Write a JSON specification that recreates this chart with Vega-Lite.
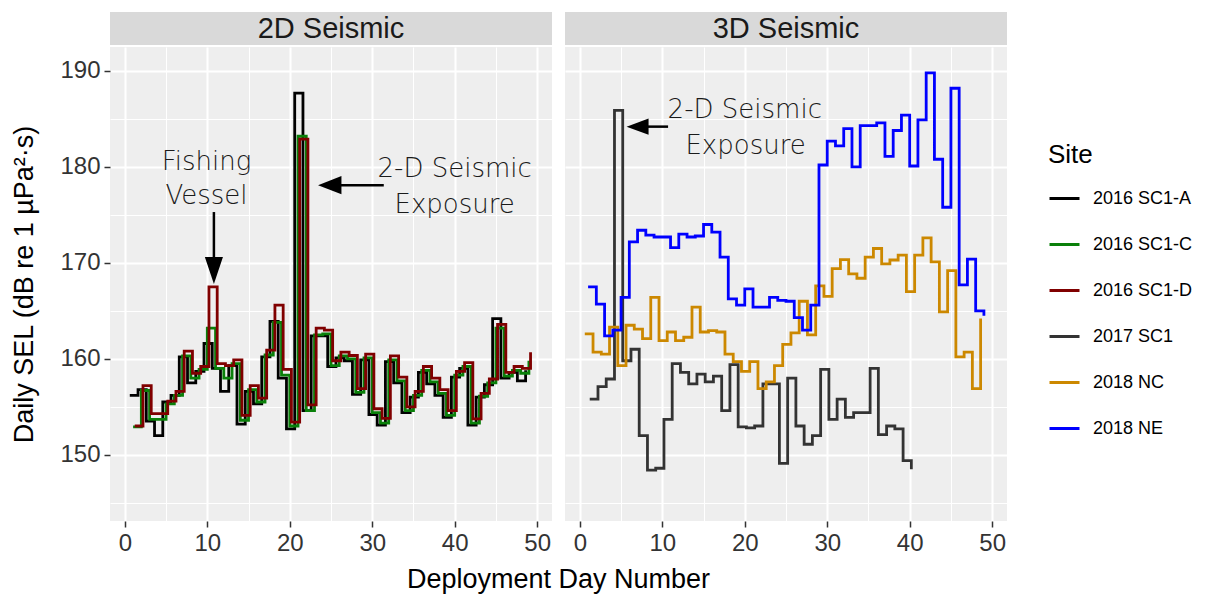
{
  "$schema": "https://vega.github.io/schema/vega-lite/v6.json",
  "background": "#ffffff",
  "padding": {"left": 10, "top": 12, "right": 10, "bottom": 4},
  "config": {
    "font": "Liberation Sans",
    "view": {"stroke": null},
    "axis": {
      "domain": false,
      "labelFont": "Liberation Sans",
      "titleFont": "Liberation Sans",
      "labelFontSize": 24,
      "labelColor": "#333333",
      "titleFontSize": 27,
      "titleFontWeight": "normal",
      "titleColor": "#000000",
      "tickColor": "#333333",
      "tickSize": 6,
      "tickWidth": 1.5,
      "labelPadding": 4,
      "gridColor": "#ffffff",
      "labelFlush": false
    },
    "legend": {
      "titleFont": "Liberation Sans",
      "labelFont": "Liberation Sans",
      "titleFontSize": 26,
      "titleFontWeight": "normal",
      "titleColor": "#000000",
      "labelFontSize": 18,
      "labelColor": "#000000",
      "symbolType": "stroke",
      "symbolStrokeWidth": 3,
      "symbolSize": 900,
      "rowPadding": 20,
      "labelOffset": 12,
      "titlePadding": 14,
      "padding": 0
    }
  },
  "datasets": {
    "lines2d": [
      {"site":"2016 SC1-A","day":0.6,"sel":156.2},{"site":"2016 SC1-A","day":1.6,"sel":156.8},{"site":"2016 SC1-A","day":2.6,"sel":153.5},{"site":"2016 SC1-A","day":3.6,"sel":152.0},{"site":"2016 SC1-A","day":4.6,"sel":155.5},{"site":"2016 SC1-A","day":5.6,"sel":156.2},{"site":"2016 SC1-A","day":6.6,"sel":160.2},{"site":"2016 SC1-A","day":7.6,"sel":157.5},{"site":"2016 SC1-A","day":8.6,"sel":158.7},{"site":"2016 SC1-A","day":9.6,"sel":161.6},
      {"site":"2016 SC1-A","day":10.6,"sel":159.0},{"site":"2016 SC1-A","day":11.6,"sel":156.6},{"site":"2016 SC1-A","day":12.6,"sel":159.3},{"site":"2016 SC1-A","day":13.6,"sel":153.2},{"site":"2016 SC1-A","day":14.6,"sel":156.6},{"site":"2016 SC1-A","day":15.6,"sel":155.3},{"site":"2016 SC1-A","day":16.6,"sel":160.2},{"site":"2016 SC1-A","day":17.6,"sel":163.9},{"site":"2016 SC1-A","day":18.6,"sel":158.0},{"site":"2016 SC1-A","day":19.6,"sel":152.7},
      {"site":"2016 SC1-A","day":20.6,"sel":187.7},{"site":"2016 SC1-A","day":21.6,"sel":154.6},{"site":"2016 SC1-A","day":22.6,"sel":162.4},{"site":"2016 SC1-A","day":23.6,"sel":162.4},{"site":"2016 SC1-A","day":24.6,"sel":159.2},{"site":"2016 SC1-A","day":25.6,"sel":160.1},{"site":"2016 SC1-A","day":26.6,"sel":159.8},{"site":"2016 SC1-A","day":27.6,"sel":156.3},{"site":"2016 SC1-A","day":28.6,"sel":159.9},{"site":"2016 SC1-A","day":29.6,"sel":154.2},
      {"site":"2016 SC1-A","day":30.6,"sel":153.1},{"site":"2016 SC1-A","day":31.6,"sel":159.7},{"site":"2016 SC1-A","day":32.6,"sel":157.5},{"site":"2016 SC1-A","day":33.6,"sel":154.4},{"site":"2016 SC1-A","day":34.6,"sel":156.0},{"site":"2016 SC1-A","day":35.6,"sel":158.6},{"site":"2016 SC1-A","day":36.6,"sel":157.4},{"site":"2016 SC1-A","day":37.6,"sel":156.2},{"site":"2016 SC1-A","day":38.6,"sel":153.9},{"site":"2016 SC1-A","day":39.6,"sel":158.1},
      {"site":"2016 SC1-A","day":40.6,"sel":159.0},{"site":"2016 SC1-A","day":41.6,"sel":153.1},{"site":"2016 SC1-A","day":42.6,"sel":156.0},{"site":"2016 SC1-A","day":43.6,"sel":157.3},{"site":"2016 SC1-A","day":44.6,"sel":164.2},{"site":"2016 SC1-A","day":45.6,"sel":158.0},{"site":"2016 SC1-A","day":46.6,"sel":158.6},{"site":"2016 SC1-A","day":47.6,"sel":157.7},{"site":"2016 SC1-A","day":48.6,"sel":158.8},
      {"site":"2016 SC1-C","day":1,"sel":152.9},{"site":"2016 SC1-C","day":2,"sel":156.7},{"site":"2016 SC1-C","day":3,"sel":153.7},{"site":"2016 SC1-C","day":4,"sel":153.7},{"site":"2016 SC1-C","day":5,"sel":155.3},{"site":"2016 SC1-C","day":6,"sel":156.2},{"site":"2016 SC1-C","day":7,"sel":160.3},{"site":"2016 SC1-C","day":8,"sel":158.0},{"site":"2016 SC1-C","day":9,"sel":158.9},{"site":"2016 SC1-C","day":10,"sel":163.2},
      {"site":"2016 SC1-C","day":11,"sel":159.0},{"site":"2016 SC1-C","day":12,"sel":158.0},{"site":"2016 SC1-C","day":13,"sel":159.5},{"site":"2016 SC1-C","day":14,"sel":153.6},{"site":"2016 SC1-C","day":15,"sel":156.8},{"site":"2016 SC1-C","day":16,"sel":155.5},{"site":"2016 SC1-C","day":17,"sel":160.4},{"site":"2016 SC1-C","day":18,"sel":163.8},{"site":"2016 SC1-C","day":19,"sel":158.3},{"site":"2016 SC1-C","day":20,"sel":153.0},
      {"site":"2016 SC1-C","day":21,"sel":183.2},{"site":"2016 SC1-C","day":22,"sel":154.6},{"site":"2016 SC1-C","day":23,"sel":162.5},{"site":"2016 SC1-C","day":24,"sel":162.6},{"site":"2016 SC1-C","day":25,"sel":159.3},{"site":"2016 SC1-C","day":26,"sel":160.3},{"site":"2016 SC1-C","day":27,"sel":160.0},{"site":"2016 SC1-C","day":28,"sel":156.5},{"site":"2016 SC1-C","day":29,"sel":160.1},{"site":"2016 SC1-C","day":30,"sel":154.4},
      {"site":"2016 SC1-C","day":31,"sel":153.3},{"site":"2016 SC1-C","day":32,"sel":159.9},{"site":"2016 SC1-C","day":33,"sel":157.7},{"site":"2016 SC1-C","day":34,"sel":154.6},{"site":"2016 SC1-C","day":35,"sel":156.2},{"site":"2016 SC1-C","day":36,"sel":158.8},{"site":"2016 SC1-C","day":37,"sel":157.6},{"site":"2016 SC1-C","day":38,"sel":156.4},{"site":"2016 SC1-C","day":39,"sel":154.1},{"site":"2016 SC1-C","day":40,"sel":158.3},
      {"site":"2016 SC1-C","day":41,"sel":159.2},{"site":"2016 SC1-C","day":42,"sel":153.3},{"site":"2016 SC1-C","day":43,"sel":156.1},{"site":"2016 SC1-C","day":44,"sel":157.5},{"site":"2016 SC1-C","day":45,"sel":163.2},{"site":"2016 SC1-C","day":46,"sel":158.2},{"site":"2016 SC1-C","day":47,"sel":158.8},{"site":"2016 SC1-C","day":48,"sel":158.5},{"site":"2016 SC1-C","day":49,"sel":159.8},
      {"site":"2016 SC1-D","day":1.2,"sel":153.0},{"site":"2016 SC1-D","day":2.2,"sel":157.2},{"site":"2016 SC1-D","day":3.2,"sel":154.3},{"site":"2016 SC1-D","day":4.2,"sel":154.3},{"site":"2016 SC1-D","day":5.2,"sel":155.6},{"site":"2016 SC1-D","day":6.2,"sel":156.6},{"site":"2016 SC1-D","day":7.2,"sel":160.8},{"site":"2016 SC1-D","day":8.2,"sel":158.5},{"site":"2016 SC1-D","day":9.2,"sel":159.2},{"site":"2016 SC1-D","day":10.2,"sel":167.5},
      {"site":"2016 SC1-D","day":11.2,"sel":159.5},{"site":"2016 SC1-D","day":12.2,"sel":159.3},{"site":"2016 SC1-D","day":13.2,"sel":159.9},{"site":"2016 SC1-D","day":14.2,"sel":154.1},{"site":"2016 SC1-D","day":15.2,"sel":157.2},{"site":"2016 SC1-D","day":16.2,"sel":155.9},{"site":"2016 SC1-D","day":17.2,"sel":160.9},{"site":"2016 SC1-D","day":18.2,"sel":165.6},{"site":"2016 SC1-D","day":19.2,"sel":158.9},{"site":"2016 SC1-D","day":20.2,"sel":153.4},
      {"site":"2016 SC1-D","day":21.2,"sel":182.9},{"site":"2016 SC1-D","day":22.2,"sel":155.2},{"site":"2016 SC1-D","day":23.2,"sel":163.2},{"site":"2016 SC1-D","day":24.2,"sel":163.0},{"site":"2016 SC1-D","day":25.2,"sel":159.8},{"site":"2016 SC1-D","day":26.2,"sel":160.7},{"site":"2016 SC1-D","day":27.2,"sel":160.35},{"site":"2016 SC1-D","day":28.2,"sel":156.9},{"site":"2016 SC1-D","day":29.2,"sel":160.5},{"site":"2016 SC1-D","day":30.2,"sel":154.8},
      {"site":"2016 SC1-D","day":31.2,"sel":153.8},{"site":"2016 SC1-D","day":32.2,"sel":160.3},{"site":"2016 SC1-D","day":33.2,"sel":158.1},{"site":"2016 SC1-D","day":34.2,"sel":155.0},{"site":"2016 SC1-D","day":35.2,"sel":156.6},{"site":"2016 SC1-D","day":36.2,"sel":159.2},{"site":"2016 SC1-D","day":37.2,"sel":158.0},{"site":"2016 SC1-D","day":38.2,"sel":156.8},{"site":"2016 SC1-D","day":39.2,"sel":154.6},{"site":"2016 SC1-D","day":40.2,"sel":158.7},
      {"site":"2016 SC1-D","day":41.2,"sel":159.6},{"site":"2016 SC1-D","day":42.2,"sel":153.75},{"site":"2016 SC1-D","day":43.2,"sel":156.4},{"site":"2016 SC1-D","day":44.2,"sel":157.9},{"site":"2016 SC1-D","day":45.2,"sel":163.6},{"site":"2016 SC1-D","day":46.2,"sel":158.6},{"site":"2016 SC1-D","day":47.2,"sel":159.2},{"site":"2016 SC1-D","day":48.2,"sel":159.0},{"site":"2016 SC1-D","day":49.2,"sel":160.7}
    ],
    "lines3d": [
      {"site":"2017 SC1","day":1.2,"sel":155.8},{"site":"2017 SC1","day":2.2,"sel":157.1},{"site":"2017 SC1","day":3.2,"sel":157.9},{"site":"2017 SC1","day":4.2,"sel":185.9},{"site":"2017 SC1","day":5.2,"sel":159.8},{"site":"2017 SC1","day":6.2,"sel":161.0},{"site":"2017 SC1","day":7.2,"sel":152.0},{"site":"2017 SC1","day":8.2,"sel":148.4},{"site":"2017 SC1","day":9.2,"sel":148.6},{"site":"2017 SC1","day":10.2,"sel":153.7},
      {"site":"2017 SC1","day":11.2,"sel":159.5},{"site":"2017 SC1","day":12.2,"sel":158.6},{"site":"2017 SC1","day":13.2,"sel":157.4},{"site":"2017 SC1","day":14.2,"sel":158.4},{"site":"2017 SC1","day":15.2,"sel":157.6},{"site":"2017 SC1","day":16.2,"sel":158.2},{"site":"2017 SC1","day":17.2,"sel":154.6},{"site":"2017 SC1","day":18.2,"sel":159.4},{"site":"2017 SC1","day":19.2,"sel":152.9},{"site":"2017 SC1","day":20.2,"sel":152.8},
      {"site":"2017 SC1","day":21.2,"sel":153.0},{"site":"2017 SC1","day":22.2,"sel":157.4},{"site":"2017 SC1","day":23.2,"sel":157.4},{"site":"2017 SC1","day":24.2,"sel":149.1},{"site":"2017 SC1","day":25.2,"sel":158.0},{"site":"2017 SC1","day":26.2,"sel":153.0},{"site":"2017 SC1","day":27.2,"sel":151.1},{"site":"2017 SC1","day":28.2,"sel":152.0},{"site":"2017 SC1","day":29.2,"sel":158.9},{"site":"2017 SC1","day":30.2,"sel":153.7},
      {"site":"2017 SC1","day":31.2,"sel":155.8},{"site":"2017 SC1","day":32.2,"sel":153.9},{"site":"2017 SC1","day":33.2,"sel":154.4},{"site":"2017 SC1","day":34.2,"sel":154.4},{"site":"2017 SC1","day":35.2,"sel":159.0},{"site":"2017 SC1","day":36.2,"sel":152.1},{"site":"2017 SC1","day":37.2,"sel":153.0},{"site":"2017 SC1","day":38.2,"sel":152.7},{"site":"2017 SC1","day":39.2,"sel":149.4},{"site":"2017 SC1","day":40.2,"sel":148.5},
      {"site":"2018 NC","day":0.6,"sel":162.6},{"site":"2018 NC","day":1.6,"sel":160.7},{"site":"2018 NC","day":2.6,"sel":160.5},{"site":"2018 NC","day":3.6,"sel":163.3},{"site":"2018 NC","day":4.6,"sel":159.3},{"site":"2018 NC","day":5.6,"sel":163.5},{"site":"2018 NC","day":6.6,"sel":163.1},{"site":"2018 NC","day":7.6,"sel":162.1},{"site":"2018 NC","day":8.6,"sel":166.4},{"site":"2018 NC","day":9.6,"sel":161.9},
      {"site":"2018 NC","day":10.6,"sel":162.8},{"site":"2018 NC","day":11.6,"sel":161.9},{"site":"2018 NC","day":12.6,"sel":162.25},{"site":"2018 NC","day":13.6,"sel":165.4},{"site":"2018 NC","day":14.6,"sel":162.8},{"site":"2018 NC","day":15.6,"sel":162.95},{"site":"2018 NC","day":16.6,"sel":162.8},{"site":"2018 NC","day":17.6,"sel":160.5},{"site":"2018 NC","day":18.6,"sel":159.7},{"site":"2018 NC","day":19.6,"sel":158.7},
      {"site":"2018 NC","day":20.6,"sel":159.7},{"site":"2018 NC","day":21.6,"sel":156.9},{"site":"2018 NC","day":22.6,"sel":157.6},{"site":"2018 NC","day":23.6,"sel":159.3},{"site":"2018 NC","day":24.6,"sel":161.5},{"site":"2018 NC","day":25.6,"sel":162.7},{"site":"2018 NC","day":26.6,"sel":166.0},{"site":"2018 NC","day":27.6,"sel":162.5},{"site":"2018 NC","day":28.6,"sel":167.6},{"site":"2018 NC","day":29.6,"sel":166.5},
      {"site":"2018 NC","day":30.6,"sel":169.4},{"site":"2018 NC","day":31.6,"sel":170.35},{"site":"2018 NC","day":32.6,"sel":168.85},{"site":"2018 NC","day":33.6,"sel":168.4},{"site":"2018 NC","day":34.6,"sel":170.6},{"site":"2018 NC","day":35.6,"sel":171.5},{"site":"2018 NC","day":36.6,"sel":169.9},{"site":"2018 NC","day":37.6,"sel":170.3},{"site":"2018 NC","day":38.6,"sel":170.8},{"site":"2018 NC","day":39.6,"sel":167.0},
      {"site":"2018 NC","day":40.6,"sel":170.8},{"site":"2018 NC","day":41.6,"sel":172.6},{"site":"2018 NC","day":42.6,"sel":170.1},{"site":"2018 NC","day":43.6,"sel":164.9},{"site":"2018 NC","day":44.6,"sel":169.2},{"site":"2018 NC","day":45.6,"sel":160.2},{"site":"2018 NC","day":46.6,"sel":160.7},{"site":"2018 NC","day":47.6,"sel":156.9},{"site":"2018 NC","day":48.6,"sel":164.2},
      {"site":"2018 NE","day":1,"sel":167.5},{"site":"2018 NE","day":2,"sel":165.7},{"site":"2018 NE","day":3,"sel":162.4},{"site":"2018 NE","day":4,"sel":163.0},{"site":"2018 NE","day":5,"sel":166.4},{"site":"2018 NE","day":6,"sel":172.2},{"site":"2018 NE","day":7,"sel":173.4},{"site":"2018 NE","day":8,"sel":172.9},{"site":"2018 NE","day":9,"sel":172.7},{"site":"2018 NE","day":10,"sel":172.7},
      {"site":"2018 NE","day":11,"sel":171.6},{"site":"2018 NE","day":12,"sel":173.0},{"site":"2018 NE","day":13,"sel":172.7},{"site":"2018 NE","day":14,"sel":172.8},{"site":"2018 NE","day":15,"sel":174.0},{"site":"2018 NE","day":16,"sel":173.2},{"site":"2018 NE","day":17,"sel":170.6},{"site":"2018 NE","day":18,"sel":166.25},{"site":"2018 NE","day":19,"sel":165.6},{"site":"2018 NE","day":20,"sel":167.3},
      {"site":"2018 NE","day":21,"sel":165.4},{"site":"2018 NE","day":22,"sel":165.4},{"site":"2018 NE","day":23,"sel":166.4},{"site":"2018 NE","day":24,"sel":166.1},{"site":"2018 NE","day":25,"sel":166.0},{"site":"2018 NE","day":26,"sel":164.3},{"site":"2018 NE","day":27,"sel":163.0},{"site":"2018 NE","day":28,"sel":165.6},{"site":"2018 NE","day":29,"sel":180.2},{"site":"2018 NE","day":30,"sel":182.7},
      {"site":"2018 NE","day":31,"sel":182.2},{"site":"2018 NE","day":32,"sel":184.0},{"site":"2018 NE","day":33,"sel":180.0},{"site":"2018 NE","day":34,"sel":184.3},{"site":"2018 NE","day":35,"sel":184.3},{"site":"2018 NE","day":36,"sel":184.6},{"site":"2018 NE","day":37,"sel":181.1},{"site":"2018 NE","day":38,"sel":183.8},{"site":"2018 NE","day":39,"sel":185.4},{"site":"2018 NE","day":40,"sel":180.1},
      {"site":"2018 NE","day":41,"sel":184.9},{"site":"2018 NE","day":42,"sel":189.8},{"site":"2018 NE","day":43,"sel":180.8},{"site":"2018 NE","day":44,"sel":175.8},{"site":"2018 NE","day":45,"sel":188.2},{"site":"2018 NE","day":46,"sel":167.7},{"site":"2018 NE","day":47,"sel":170.4},{"site":"2018 NE","day":48,"sel":165.0},{"site":"2018 NE","day":49,"sel":164.5}
    ],
    "ann2d": [
      {"x":9.9,"y":179.7,"label":"Fishing"},
      {"x":9.9,"y":176.1,"label":"Vessel"},
      {"x":40.0,"y":179.0,"label":"2-D Seismic"},
      {"x":40.0,"y":175.2,"label":"Exposure"}
    ],
    "shaft2d": [
      {"x":10.8,"y":175.3,"x2":10.8,"y2":170.3},
      {"x":26.1,"y":178.1,"x2":31.4,"y2":178.1}
    ],
    "headDown2d": [{"x":10.8,"y":169.2}],
    "headLeft2d": [{"x":24.85,"y":178.1}],
    "ann3d": [
      {"x":20.0,"y":185.1,"label":"2-D Seismic"},
      {"x":20.1,"y":181.35,"label":"Exposure"}
    ],
    "shaft3d": [{"x":8.2,"y":184.2,"x2":10.7,"y2":184.2}],
    "headLeft3d": [{"x":7.0,"y":184.2}]
  },
  "columns": 2,
  "spacing": {"row": 2, "column": 13},
  "bounds": "flush",
  "concat": [
    {
      "width": 442,
      "height": 33,
      "view": {"fill": "#d9d9d9", "stroke": null},
      "data": {"values": [{"label": "2D Seismic"}]},
      "mark": {"type": "text", "fontSize": 29, "color": "#1a1a1a", "font": "Liberation Sans"},
      "encoding": {"text": {"field": "label", "type": "nominal"}}
    },
    {
      "width": 442,
      "height": 33,
      "view": {"fill": "#d9d9d9", "stroke": null},
      "data": {"values": [{"label": "3D Seismic"}]},
      "mark": {"type": "text", "fontSize": 29, "color": "#1a1a1a", "font": "Liberation Sans"},
      "encoding": {"text": {"field": "label", "type": "nominal"}}
    },
    {
      "width": 442,
      "height": 474,
      "view": {"fill": "#eeeeee", "stroke": null},
      "resolve": {"axis": {"x": "independent", "y": "independent"}},
      "layer": [
        {
          "data": {"name": "lines2d"},
          "mark": {"type": "line", "interpolate": "step-after", "strokeWidth": 2.8},
          "encoding": {
            "x": {"field": "day", "type": "quantitative", "scale": {"domain": [-1.8, 51.8], "nice": false, "zero": false},
                  "axis": {"orient": "bottom", "values": [0, 10, 20, 30, 40, 50], "grid": true, "gridWidth": 2, "title": "Deployment Day Number", "titleX": 448, "titlePadding": 11}},
            "y": {"field": "sel", "type": "quantitative", "scale": {"domain": [143.1, 192.5], "nice": false, "zero": false},
                  "axis": {"orient": "left", "values": [150, 160, 170, 180, 190], "grid": true, "gridWidth": 2, "title": "Daily SEL (dB re 1 µPa²·s)", "titlePadding": 21}},
            "color": {"field": "site", "type": "nominal",
                      "scale": {"domain": ["2016 SC1-A", "2016 SC1-C", "2016 SC1-D", "2017 SC1", "2018 NC", "2018 NE"],
                                "range": ["#000000", "#0a800a", "#800000", "#333333", "#cc8800", "#0000ff"]},
                      "legend": {"title": "Site", "orient": "none", "legendX": 938, "legendY": 130}}
          }
        },
        {
          "data": {"name": "lines2d"},
          "mark": {"type": "point", "opacity": 0},
          "encoding": {
            "x": {"field": "day", "type": "quantitative", "scale": {"domain": [-1.8, 51.8], "nice": false, "zero": false},
                  "axis": {"orient": "top", "values": [5, 15, 25, 35, 45], "grid": true, "gridWidth": 1, "labels": false, "ticks": false, "domain": false, "title": null}},
            "y": {"field": "sel", "type": "quantitative", "scale": {"domain": [143.1, 192.5], "nice": false, "zero": false},
                  "axis": {"orient": "right", "values": [145, 155, 165, 175, 185], "grid": true, "gridWidth": 1, "labels": false, "ticks": false, "domain": false, "title": null}}
          }
        },
        {
          "data": {"name": "ann2d"},
          "mark": {"type": "text", "font": "DejaVu Sans", "fontWeight": 200, "fontSize": 26, "color": "#1a1a1a", "baseline": "alphabetic"},
          "encoding": {
            "x": {"field": "x", "type": "quantitative", "scale": {"domain": [-1.8, 51.8], "nice": false, "zero": false}, "axis": null},
            "y": {"field": "y", "type": "quantitative", "scale": {"domain": [143.1, 192.5], "nice": false, "zero": false}, "axis": null},
            "text": {"field": "label", "type": "nominal"}
          }
        },
        {
          "data": {"name": "shaft2d"},
          "mark": {"type": "rule", "strokeWidth": 2.5, "color": "#000000"},
          "encoding": {
            "x": {"field": "x", "type": "quantitative", "scale": {"domain": [-1.8, 51.8], "nice": false, "zero": false}, "axis": null},
            "y": {"field": "y", "type": "quantitative", "scale": {"domain": [143.1, 192.5], "nice": false, "zero": false}, "axis": null},
            "x2": {"field": "x2"},
            "y2": {"field": "y2"}
          }
        },
        {
          "data": {"name": "headDown2d"},
          "mark": {"type": "point", "shape": "M -0.67 -1 L 0.67 -1 L 0 1 Z", "size": 729, "filled": true, "color": "#000000", "opacity": 1},
          "encoding": {
            "x": {"field": "x", "type": "quantitative", "scale": {"domain": [-1.8, 51.8], "nice": false, "zero": false}, "axis": null},
            "y": {"field": "y", "type": "quantitative", "scale": {"domain": [143.1, 192.5], "nice": false, "zero": false}, "axis": null}
          }
        },
        {
          "data": {"name": "headLeft2d"},
          "mark": {"type": "point", "shape": "M -1 0 L 1 -0.78 L 1 0.78 Z", "size": 548, "filled": true, "color": "#000000", "opacity": 1},
          "encoding": {
            "x": {"field": "x", "type": "quantitative", "scale": {"domain": [-1.8, 51.8], "nice": false, "zero": false}, "axis": null},
            "y": {"field": "y", "type": "quantitative", "scale": {"domain": [143.1, 192.5], "nice": false, "zero": false}, "axis": null}
          }
        }
      ]
    },
    {
      "width": 442,
      "height": 474,
      "view": {"fill": "#eeeeee", "stroke": null},
      "resolve": {"axis": {"x": "independent", "y": "independent"}},
      "layer": [
        {
          "data": {"name": "lines3d"},
          "mark": {"type": "line", "interpolate": "step-after", "strokeWidth": 2.8},
          "encoding": {
            "x": {"field": "day", "type": "quantitative", "scale": {"domain": [-1.8, 51.8], "nice": false, "zero": false},
                  "axis": {"orient": "bottom", "values": [0, 10, 20, 30, 40, 50], "grid": true, "gridWidth": 2, "title": null}},
            "y": {"field": "sel", "type": "quantitative", "scale": {"domain": [143.1, 192.5], "nice": false, "zero": false},
                  "axis": {"orient": "left", "values": [150, 160, 170, 180, 190], "grid": true, "gridWidth": 2, "labels": false, "ticks": false, "title": null}},
            "color": {"field": "site", "type": "nominal",
                      "scale": {"domain": ["2016 SC1-A", "2016 SC1-C", "2016 SC1-D", "2017 SC1", "2018 NC", "2018 NE"],
                                "range": ["#000000", "#0a800a", "#800000", "#333333", "#cc8800", "#0000ff"]},
                      "legend": {"title": "Site", "orient": "none", "legendX": 938, "legendY": 130}}
          }
        },
        {
          "data": {"name": "lines3d"},
          "mark": {"type": "point", "opacity": 0},
          "encoding": {
            "x": {"field": "day", "type": "quantitative", "scale": {"domain": [-1.8, 51.8], "nice": false, "zero": false},
                  "axis": {"orient": "top", "values": [5, 15, 25, 35, 45], "grid": true, "gridWidth": 1, "labels": false, "ticks": false, "domain": false, "title": null}},
            "y": {"field": "sel", "type": "quantitative", "scale": {"domain": [143.1, 192.5], "nice": false, "zero": false},
                  "axis": {"orient": "right", "values": [145, 155, 165, 175, 185], "grid": true, "gridWidth": 1, "labels": false, "ticks": false, "domain": false, "title": null}}
          }
        },
        {
          "data": {"name": "ann3d"},
          "mark": {"type": "text", "font": "DejaVu Sans", "fontWeight": 200, "fontSize": 26, "color": "#1a1a1a", "baseline": "alphabetic"},
          "encoding": {
            "x": {"field": "x", "type": "quantitative", "scale": {"domain": [-1.8, 51.8], "nice": false, "zero": false}, "axis": null},
            "y": {"field": "y", "type": "quantitative", "scale": {"domain": [143.1, 192.5], "nice": false, "zero": false}, "axis": null},
            "text": {"field": "label", "type": "nominal"}
          }
        },
        {
          "data": {"name": "shaft3d"},
          "mark": {"type": "rule", "strokeWidth": 2.5, "color": "#000000"},
          "encoding": {
            "x": {"field": "x", "type": "quantitative", "scale": {"domain": [-1.8, 51.8], "nice": false, "zero": false}, "axis": null},
            "y": {"field": "y", "type": "quantitative", "scale": {"domain": [143.1, 192.5], "nice": false, "zero": false}, "axis": null},
            "x2": {"field": "x2"},
            "y2": {"field": "y2"}
          }
        },
        {
          "data": {"name": "headLeft3d"},
          "mark": {"type": "point", "shape": "M -1 0 L 1 -0.73 L 1 0.73 Z", "size": 484, "filled": true, "color": "#000000", "opacity": 1},
          "encoding": {
            "x": {"field": "x", "type": "quantitative", "scale": {"domain": [-1.8, 51.8], "nice": false, "zero": false}, "axis": null},
            "y": {"field": "y", "type": "quantitative", "scale": {"domain": [143.1, 192.5], "nice": false, "zero": false}, "axis": null}
          }
        }
      ]
    }
  ]
}
